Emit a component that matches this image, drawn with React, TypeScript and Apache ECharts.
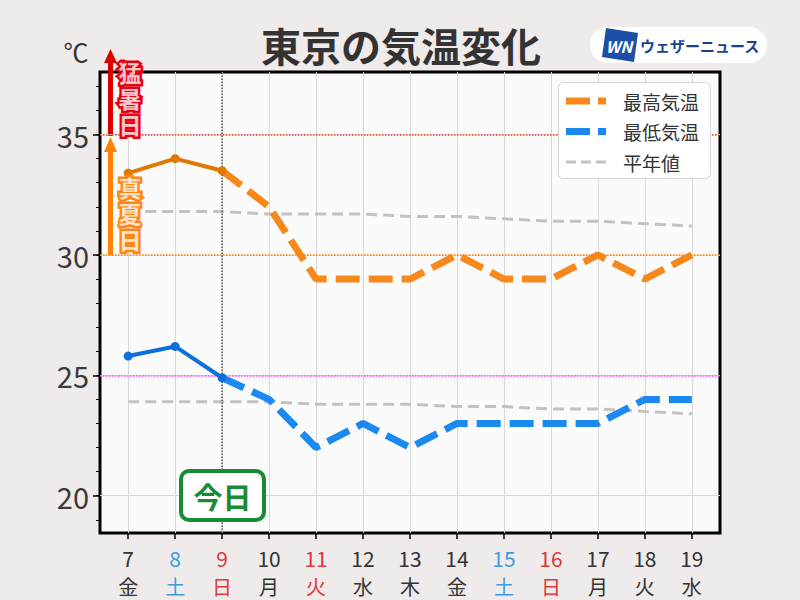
import React, { useEffect, useRef } from "react";
import * as echarts from "echarts";

const days = [7, 8, 9, 10, 11, 12, 13, 14, 15, 16, 17, 18, 19];
const weekdays = ["金", "土", "日", "月", "火", "水", "木", "金", "土", "日", "月", "火", "水"];
const blueDays = [8, 15];
const redDays = [9, 11, 16];
const observedDays = [7, 8, 9];
const forecastDays = [9, 10, 11, 12, 13, 14, 15, 16, 17, 18, 19];
const maxObserved = [33.4, 34.0, 33.5];
const maxForecast = [33.5, 32, 29, 29, 29, 30, 29, 29, 30, 29, 30];
const minObserved = [25.8, 26.2, 24.9];
const minForecast = [24.9, 24, 22, 23, 22, 23, 23, 23, 23, 24, 24];
const normalMax = [31.8, 31.8, 31.8, 31.7, 31.7, 31.7, 31.6, 31.6, 31.5, 31.4, 31.4, 31.3, 31.2];
const normalMin = [23.9, 23.9, 23.9, 23.9, 23.8, 23.8, 23.8, 23.7, 23.7, 23.6, 23.6, 23.5, 23.4];
const yLabels = [20, 25, 30, 35];
const yMinor = [19, 20, 21, 22, 23, 24, 25, 26, 27, 28, 29, 30, 31, 32, 33, 34, 35, 36, 37];
const todayDay = 9;
const extremeHot = 35;
const midsummer = 30;
const tropicalNight = 25;
const hotLabel = ["猛", "暑", "日"];
const summerLabel = ["真", "夏", "日"];
const legendNames = ["最高気温", "最低気温", "平年値"];

const FONT = '"Noto Sans CJK JP", "Noto Sans", sans-serif';
const ORANGE = "#f7891c";
const BLUE = "#1a8af0";
const GRAY = "#c2c2c2";

function pair(xs: number[], ys: number[]) {
  return xs.map((x, i) => [x, ys[i]]);
}

function verticalLabel(chars: string[], top: number, fill: string, stroke: string) {
  return chars.map((c, i) => ({
    type: "text",
    x: 130,
    y: top + i * 26,
    z: 10,
    style: {
      text: c,
      font: `bold 23px ${FONT}`,
      fill,
      stroke,
      lineWidth: 5,
      textAlign: "center",
      textVerticalAlign: "middle",
    },
  }));
}

function legendGraphic() {
  const styles = [
    { color: ORANGE, width: 7, dash: [24, 8] },
    { color: BLUE, width: 7, dash: [24, 8] },
    { color: GRAY, width: 3, dash: [10, 5] },
  ];
  const items: any[] = [
    {
      type: "rect",
      z: 20,
      shape: { x: 558.5, y: 82.5, width: 152, height: 96, r: 5 },
      style: { fill: "#ffffff", stroke: "#d6d6d6", lineWidth: 1 },
    },
  ];
  legendNames.forEach((name, i) => {
    const y = 101 + i * 30.5;
    const s = styles[i];
    items.push({
      type: "line",
      z: 21,
      shape: { x1: 566, y1: y, x2: 606, y2: y },
      style: { stroke: s.color, lineWidth: s.width, lineDash: s.dash, lineCap: "butt" },
    });
    items.push({
      type: "text",
      z: 21,
      x: 623,
      y,
      style: { text: name, font: `19px ${FONT}`, fill: "#333", textVerticalAlign: "middle" },
    });
  });
  return items;
}

export default function App() {
  const ref = useRef<HTMLDivElement>(null);
  useEffect(() => {
    document.body.style.margin = "0";
    const chart = echarts.init(ref.current!, null, { renderer: "svg" });
    const kind = (d: number) => (blueDays.includes(d) ? "b" : redDays.includes(d) ? "r" : "k");
    const option: any = {
      animation: false,
      backgroundColor: "#eeebea",
      textStyle: { fontFamily: FONT },
      grid: {
        left: 100,
        right: 80,
        top: 72,
        bottom: 67,
        show: true,
        backgroundColor: "#fcfbfc",
        borderColor: "#000",
        borderWidth: 3,
      },
      xAxis: {
        type: "value",
        min: 6.4,
        max: 19.6,
        axisLine: { show: false },
        axisTick: { show: true, customValues: days, length: 6, lineStyle: { color: "#000", width: 1.5 } },
        splitLine: { show: true, lineStyle: { color: "#d8d8d8", width: 1 } },
        axisLabel: {
          customValues: days,
          margin: 10,
          formatter: (v: number) => {
            const i = days.indexOf(v);
            const k = kind(v);
            return `{n${k}|${v}}\n{w${k}|${weekdays[i] ?? ""}}`;
          },
          rich: {
            nk: { fontSize: 21, color: "#333", lineHeight: 29, fontFamily: FONT },
            nb: { fontSize: 21, color: "#3b9de2", lineHeight: 29, fontFamily: FONT },
            nr: { fontSize: 21, color: "#e0383c", lineHeight: 29, fontFamily: FONT },
            wk: { fontSize: 20, color: "#333", lineHeight: 29, fontFamily: FONT },
            wb: { fontSize: 20, color: "#3b9de2", lineHeight: 29, fontFamily: FONT },
            wr: { fontSize: 20, color: "#e0383c", lineHeight: 29, fontFamily: FONT },
          },
        },
      },
      yAxis: [
        {
          type: "value",
          min: 18.45,
          max: 37.6,
          axisLine: { show: false },
          axisTick: { show: true, customValues: yLabels, length: 7, lineStyle: { color: "#000", width: 1.5 } },
          splitLine: { show: true, lineStyle: { color: "#d8d8d8", width: 1 } },
          axisLabel: { customValues: yLabels, fontSize: 29, color: "#3a3a3a", margin: 11, fontFamily: FONT },
        },
        {
          type: "value",
          min: 18.45,
          max: 37.6,
          position: "left",
          axisLine: { show: false },
          axisTick: { show: true, customValues: yMinor, length: 4, lineStyle: { color: "#000", width: 1 } },
          splitLine: { show: false },
          axisLabel: { show: false },
        },
      ],
      series: [
        {
          name: "平年値",
          type: "line",
          data: pair(days, normalMax),
          symbol: "none",
          lineStyle: { color: GRAY, width: 3, type: [11, 6] },
          itemStyle: { color: GRAY },
          z: 3,
          markLine: {
            silent: true,
            symbol: "none",
            label: { show: false },
            data: [
              { yAxis: extremeHot, lineStyle: { color: "#f0401a", type: "dotted", width: 1.5 } },
              { yAxis: midsummer, lineStyle: { color: "#ff8000", type: "dotted", width: 1.5 } },
              { yAxis: tropicalNight, lineStyle: { color: "#ff3cff", type: "dotted", width: 1.5 } },
              { xAxis: todayDay, lineStyle: { color: "#555", type: "dotted", width: 1.5 } },
            ],
          },
        },
        {
          name: "平年値",
          type: "line",
          data: pair(days, normalMin),
          symbol: "none",
          lineStyle: { color: GRAY, width: 3, type: [11, 6] },
          itemStyle: { color: GRAY },
          z: 3,
        },
        {
          name: "最高気温",
          type: "line",
          data: pair(forecastDays, maxForecast),
          symbol: "none",
          lineStyle: { color: ORANGE, width: 7, type: [24, 9] },
          itemStyle: { color: ORANGE },
          z: 4,
        },
        {
          name: "最低気温",
          type: "line",
          data: pair(forecastDays, minForecast),
          symbol: "none",
          lineStyle: { color: BLUE, width: 7, type: [24, 9] },
          itemStyle: { color: BLUE },
          z: 4,
        },
        {
          name: "最高観測",
          type: "line",
          data: pair(observedDays, maxObserved),
          symbol: "circle",
          symbolSize: 9,
          lineStyle: { color: "#e07800", width: 4 },
          itemStyle: { color: "#e07800" },
          z: 5,
        },
        {
          name: "最低観測",
          type: "line",
          data: pair(observedDays, minObserved),
          symbol: "circle",
          symbolSize: 9,
          lineStyle: { color: "#0b6fdc", width: 4 },
          itemStyle: { color: "#0b6fdc" },
          z: 5,
        },
      ],
      graphic: [
        {
          type: "text",
          x: 401,
          y: 45,
          style: {
            text: "東京の気温変化",
            font: `bold 40px ${FONT}`,
            fill: "#333",
            textAlign: "center",
            textVerticalAlign: "middle",
          },
        },
        {
          type: "text",
          x: 76,
          y: 51,
          style: { text: "℃", font: `25px ${FONT}`, fill: "#333", textAlign: "center", textVerticalAlign: "middle" },
        },
        // logo
        { type: "rect", shape: { x: 590, y: 27, width: 177, height: 36, r: 18 }, style: { fill: "#ffffff" } },
        {
          type: "polygon",
          shape: { points: [[606, 28], [638, 33], [634, 62], [602, 57]] },
          style: { fill: "#1c4fa6" },
        },
        {
          type: "text",
          x: 619,
          y: 46,
          style: {
            text: "WN",
            font: `italic bold 16px ${FONT}`,
            fill: "#fff",
            textAlign: "center",
            textVerticalAlign: "middle",
          },
        },
        {
          type: "text",
          x: 640,
          y: 45,
          style: { text: "ウェザーニュース", font: `bold 15px ${FONT}`, fill: "#1d3f8f", textVerticalAlign: "middle" },
        },
        // arrows
        { type: "rect", shape: { x: 108, y: 61, width: 5, height: 75 }, style: { fill: "#d90000" } },
        { type: "polygon", shape: { points: [[104, 63], [117, 63], [110.5, 49]] }, style: { fill: "#d90000" } },
        { type: "rect", shape: { x: 108, y: 150, width: 5, height: 106 }, style: { fill: "#ff8200" } },
        { type: "polygon", shape: { points: [[104, 152], [117, 152], [110.5, 137]] }, style: { fill: "#ff8200" } },
        ...verticalLabel(hotLabel, 72, "#ffc4c8", "#e60012"),
        ...verticalLabel(summerLabel, 187, "#ffe4c8", "#ff8616"),
        ...legendGraphic(),
        // today box
        {
          type: "rect",
          z: 10,
          shape: { x: 181, y: 471, width: 83, height: 49, r: 8 },
          style: { fill: "#ffffff", stroke: "#1b8a36", lineWidth: 4 },
        },
        {
          type: "text",
          z: 11,
          x: 222.5,
          y: 496,
          style: {
            text: "今日",
            font: `bold 29px ${FONT}`,
            fill: "#1b8a36",
            textAlign: "center",
            textVerticalAlign: "middle",
          },
        },
      ],
    };
    chart.setOption(option);
    return () => chart.dispose();
  }, []);
  return <div ref={ref} style={{ width: 800, height: 600 }} />;
}
